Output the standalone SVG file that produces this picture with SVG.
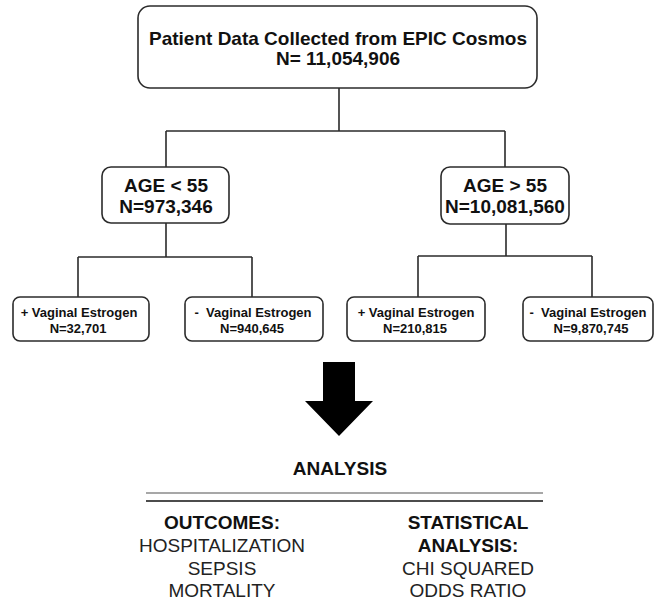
<svg xmlns="http://www.w3.org/2000/svg" width="656" height="601" viewBox="0 0 656 601">
<style>
  .box { fill: #ffffff; stroke: #2b2b2b; stroke-width: 1.6; }
  .conn { fill: none; stroke: #2b2b2b; stroke-width: 1.6; }
  .big { font-family: "Liberation Sans", Arial, sans-serif; font-weight: bold; font-size: 19px; fill: #111; text-anchor: middle; }
  .small { font-family: "Liberation Sans", Arial, sans-serif; font-weight: bold; font-size: 13px; fill: #111; text-anchor: middle; white-space: pre; }
  .reg { font-family: "Liberation Sans", Arial, sans-serif; font-size: 19px; fill: #222; text-anchor: middle; }
</style>
<rect width="656" height="601" fill="#ffffff"/>

<g id="connectors">
  <path class="conn" d="M339,88 V131 M166,131 H505 M166,131 V167 M505,131 V167"/>
  <path class="conn" d="M166,223 V257 M78,257 H252 M78,257 V297 M252,257 V297"/>
  <path class="conn" d="M506,224 V256 M418,256 H592 M418,256 V297 M592,256 V297"/>
</g>

<g id="root">
  <rect class="box" x="138" y="6" width="399" height="82" rx="12"/>
  <text class="big" x="338" y="45">Patient Data Collected from EPIC Cosmos</text>
  <text class="big" x="338" y="65">N= 11,054,906</text>
</g>

<g id="age-under-55">
  <rect class="box" x="102" y="167" width="127" height="56" rx="9"/>
  <text class="big" x="166" y="192">AGE &lt; 55</text>
  <text class="big" x="166" y="213">N=973,346</text>
</g>

<g id="age-over-55">
  <rect class="box" x="441" y="167" width="128" height="57" rx="9"/>
  <text class="big" x="505" y="192">AGE &gt; 55</text>
  <text class="big" x="505" y="213">N=10,081,560</text>
</g>

<g id="young-plus">
  <rect class="box" x="13" y="297" width="136" height="44" rx="7"/>
  <text class="small" x="79" y="317">+ Vaginal Estrogen</text>
  <text class="small" x="78" y="333">N=32,701</text>
</g>

<g id="young-minus">
  <rect class="box" x="185" y="297" width="138" height="44" rx="7"/>
  <text class="small" x="253" y="317">-  Vaginal Estrogen</text>
  <text class="small" x="252" y="333">N=940,645</text>
</g>

<g id="old-plus">
  <rect class="box" x="347" y="297" width="138" height="44" rx="7"/>
  <text class="small" x="416" y="317">+ Vaginal Estrogen</text>
  <text class="small" x="415" y="333">N=210,815</text>
</g>

<g id="old-minus">
  <rect class="box" x="523" y="297" width="130" height="44" rx="7"/>
  <text class="small" x="588" y="317">-  Vaginal Estrogen</text>
  <text class="small" x="591" y="333">N=9,870,745</text>
</g>

<g id="arrow">
  <polygon points="323,362 355,362 355,401 373,401 339,436 305,401 323,401" fill="#000"/>
</g>

<g id="analysis">
  <text class="big" x="340" y="475">ANALYSIS</text>
  <line x1="146" y1="493" x2="543" y2="493" stroke="#8a8a8a" stroke-width="1.6"/>
  <line x1="146" y1="501" x2="543" y2="501" stroke="#111" stroke-width="1.3"/>
</g>

<g id="outcomes">
  <text class="big" x="222" y="529">OUTCOMES:</text>
  <text class="reg" x="222" y="552">HOSPITALIZATION</text>
  <text class="reg" x="222" y="575">SEPSIS</text>
  <text class="reg" x="222" y="597">MORTALITY</text>
</g>

<g id="statistics">
  <text class="big" x="468" y="529">STATISTICAL</text>
  <text class="big" x="468" y="552">ANALYSIS:</text>
  <text class="reg" x="468" y="575">CHI SQUARED</text>
  <text class="reg" x="468" y="597">ODDS RATIO</text>
</g>
</svg>
